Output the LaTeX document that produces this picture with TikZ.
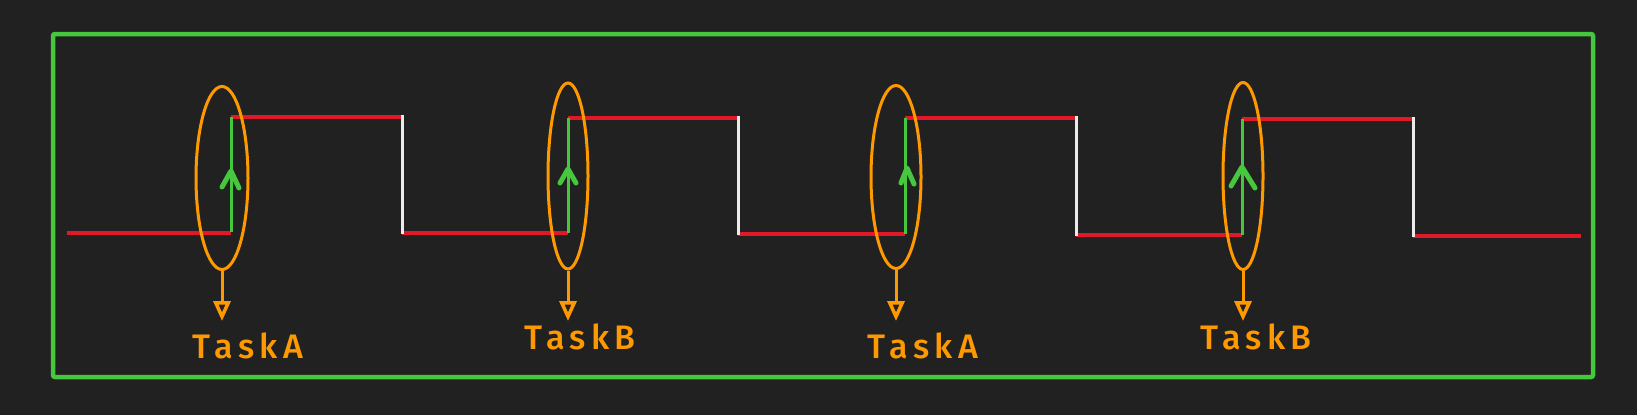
\documentclass[tikz,border=0pt]{standalone}
\usepackage{fontspec}
\newfontfamily\handfont[LetterSpace=16]{Fira Sans Medium}
\usepackage{tikz}
\usetikzlibrary{arrows.meta,positioning,calc,shapes.geometric}
\definecolor{bgdark}{RGB}{33,33,33}
\definecolor{framegreen}{RGB}{70,200,62}
\definecolor{sigred}{RGB}{225,24,40}
\definecolor{taskorange}{RGB}{255,153,0}
\definecolor{edgewhite}{RGB}{235,235,235}

\begin{document}
\begin{tikzpicture}[x=1pt, y=-1pt,
    lowhigh/.style={draw=sigred, line width=3.5pt},
    falledge/.style={draw=edgewhite, line width=3pt},
    riseedge/.style={draw=framegreen, line width=3pt},
    chevron/.style={draw=framegreen, line width=5pt, line cap=round, line join=round},
    taskring/.style={draw=taskorange, line width=3pt, ellipse, inner sep=0pt},
    tasklabel/.style={text=taskorange, font=\handfont\fontsize{34}{34}\selectfont, inner sep=0pt, anchor=north},
    taskarrow/.style={draw=taskorange, line width=3pt, shorten >=12pt, -{Triangle[open, length=20pt, width=17pt, line width=3.5pt]}}]
        \useasboundingbox[fill=bgdark] (0,0) rectangle (1637,415);
        % outer frame
        \draw[framegreen, line width=4.5pt, rounded corners=2pt] (53,34) rectangle (1593,377);
        % signal levels
        \draw[lowhigh] (67,233) -- (231,233);
        \draw[lowhigh] (231,117) -- (402,117);
        \draw[lowhigh] (402,233) -- (568,233);
        \draw[lowhigh] (568,118) -- (738,118);
        \draw[lowhigh] (738,234) -- (905,234);
        \draw[lowhigh] (905,118) -- (1076,118);
        \draw[lowhigh] (1076,235) -- (1242,235);
        \draw[lowhigh] (1242,119) -- (1413,119);
        \draw[lowhigh] (1413,236) -- (1581,236);
        % falling edges
        \draw[falledge] (402,115) -- (402,234);
        \draw[falledge] (738,116) -- (738,235);
        \draw[falledge] (1076,116) -- (1076,236);
        \draw[falledge] (1413,117) -- (1413,237);
        % rising edges with marks
        \draw[riseedge] (231,232) -- (231,117);
        \draw[chevron] (222,187) -- (231,171) -- (239,188);
        \draw[riseedge] (568,233) -- (568,118);
        \draw[chevron] (560,183) -- (568,169) -- (576,183);
        \draw[riseedge] (905,234) -- (905,118);
        \draw[chevron] (901,183) -- (907,168) -- (914,184);
        \draw[riseedge] (1242,235) -- (1242,119);
        \draw[chevron] (1231,186) -- (1242,167) -- (1255,188);
        % task rings
        \node[taskring, minimum width=52pt, minimum height=183pt] (ringa1) at (222,178) {};
        \node[taskring, minimum width=40pt, minimum height=186pt] (ringb1) at (568,176) {};
        \node[taskring, minimum width=50pt, minimum height=183pt] (ringa2) at (896,177) {};
        \node[taskring, minimum width=40pt, minimum height=187pt] (ringb2) at (1243,176) {};
        % labels
        \node[tasklabel] (taska1) at (248,333) {TaskA};
        \node[tasklabel] (taskb1) at (580,324) {TaskB};
        \node[tasklabel] (taska2) at (923,333) {TaskA};
        \node[tasklabel] (taskb2) at (1256,324) {TaskB};
        \draw[taskarrow] (ringa1.south) -- (ringa1.south |- taska1.north);
        \draw[taskarrow] (ringb1.south) -- (ringb1.south |- taska1.north);
        \draw[taskarrow] (ringa2.south) -- (ringa2.south |- taska2.north);
        \draw[taskarrow] (ringb2.south) -- (ringb2.south |- taska2.north);
    \end{tikzpicture}
\end{document}
